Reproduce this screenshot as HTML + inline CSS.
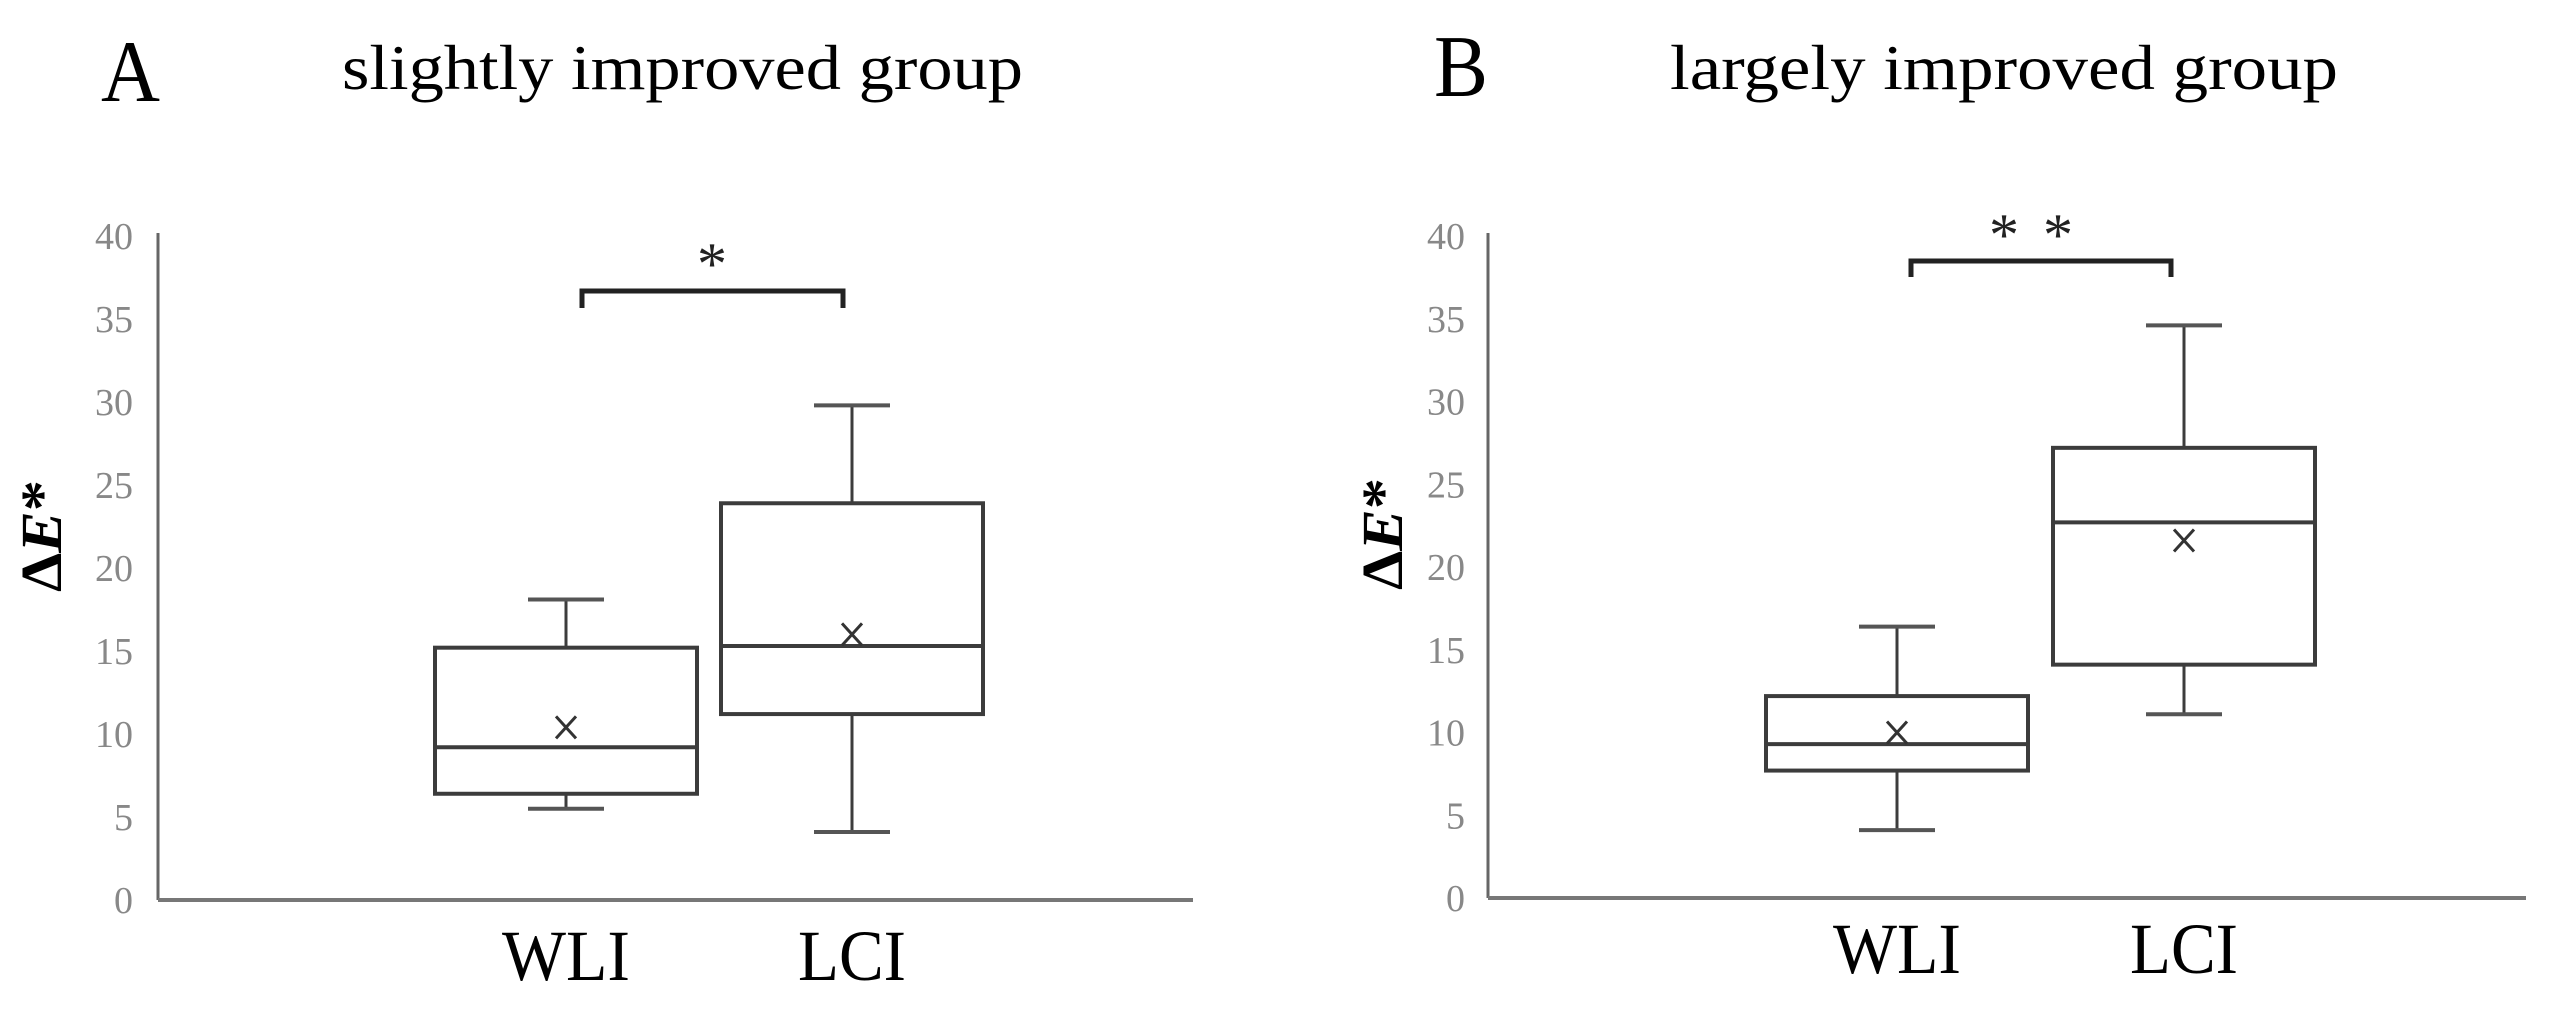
<!DOCTYPE html>
<html><head><meta charset="utf-8"><style>
html,body{margin:0;padding:0;background:#fff;width:2555px;height:1019px;overflow:hidden}
svg text{font-family:"Liberation Serif",serif}
</style></head><body>
<svg id="fig" width="2555" height="1019" viewBox="0 0 2555 1019">
<text x="101" y="101" font-size="88" textLength="59" lengthAdjust="spacingAndGlyphs">A</text>
<text x="342" y="89" font-size="64" textLength="681" lengthAdjust="spacingAndGlyphs">slightly improved group</text>
<text x="1434" y="96" font-size="88" textLength="54" lengthAdjust="spacingAndGlyphs">B</text>
<text x="1670" y="89" font-size="64" textLength="668" lengthAdjust="spacingAndGlyphs">largely improved group</text>
</svg>
<script>
const ticks=[0,5,10,15,20,25,30,35,40];
const groups=["WLI","LCI"];
const aMin=[5.5,4.1], aQ1=[6.4,11.2], aMed=[9.2,15.3], aQ3=[15.2,23.9], aMax=[18.1,29.8], aMean=[10.4,16.0];
const bMin=[4.1,11.1], bQ1=[7.7,14.1], bMed=[9.3,22.7], bQ3=[12.2,27.2], bMax=[16.4,34.6], bMean=[10.0,21.6];
const sigA="*", sigB="* *";
const NS="http://www.w3.org/2000/svg";
const svg=document.getElementById('fig');
function mk(tag,attrs,parent){const e=document.createElementNS(NS,tag);for(const k in attrs)e.setAttribute(k,attrs[k]);(parent||svg).appendChild(e);return e;}
const panels=[
 {id:'a',ax:158,axEnd:1193,y0:900,y40:236,lblR:133,centers:[566,852],halfBox:131,cap:38,mn:aMin,q1:aQ1,md:aMed,q3:aQ3,mx:aMax,mean:aMean,br:[582,843,291,308],sig:sigA,sigX:[712],sigY:262,ytx:42,yty:536,xlY:980},
 {id:'b',ax:1488,axEnd:2526,y0:898,y40:236,lblR:1465,centers:[1897,2184],halfBox:131,cap:38,mn:bMin,q1:bQ1,md:bMed,q3:bQ3,mx:bMax,mean:bMean,br:[1911,2171,261,277],sig:sigB,sigX:[2004,2058],sigY:233,ytx:1383,yty:534,xlY:973}
];
panels.forEach(p=>{
 const y=v=>p.y0-(v/40)*(p.y0-p.y40);
 const g=mk('g',{});
 
 
 const ya=mk('line',{x1:p.ax,y1:p.y40-3,x2:p.ax,y2:p.y0,stroke:'#666','stroke-width':3},g);
 
 
 const xa=mk('line',{x1:p.ax,y1:p.y0,x2:p.axEnd,y2:p.y0,stroke:'#777','stroke-width':4},g);
 
 
 ticks.forEach(t=>{
  const s=String(t);
  const tx=mk('text',{x:p.lblR,y:y(t)+13,'font-size':38,fill:'#888','text-anchor':'end',textLength:s.length*19,lengthAdjust:'spacingAndGlyphs'},g);
  tx.textContent=s;
  
  
 });
 const yt=mk('text',{x:0,y:0,'font-size':58,'font-weight':'bold',transform:`translate(${p.ytx+19},${p.yty}) rotate(-90)`,'text-anchor':'middle',textLength:112,lengthAdjust:'spacingAndGlyphs'},g);
 yt.innerHTML='Δ<tspan font-style="italic">E</tspan>*';
 
 
 groups.forEach((gn,i)=>{
  const c=p.centers[i], st='#3c3c3c';
  const mn=p.mn[i], q1=p.q1[i], md=p.md[i], q3=p.q3[i], mx=p.mx[i], mean=p.mean[i];
  const bx=mk('g',{},g);
  
  
  mk('line',{x1:c,y1:y(q3),x2:c,y2:y(mx),stroke:st,'stroke-width':3},bx);
  mk('line',{x1:c,y1:y(q1),x2:c,y2:y(mn),stroke:st,'stroke-width':3},bx);
  mk('line',{x1:c-p.cap,y1:y(mx),x2:c+p.cap,y2:y(mx),stroke:'#555','stroke-width':4},bx);
  mk('line',{x1:c-p.cap,y1:y(mn),x2:c+p.cap,y2:y(mn),stroke:'#555','stroke-width':4},bx);
  mk('rect',{x:c-p.halfBox,y:y(q3),width:2*p.halfBox,height:y(q1)-y(q3),fill:'none',stroke:st,'stroke-width':4},bx);
  mk('line',{x1:c-p.halfBox,y1:y(md),x2:c+p.halfBox,y2:y(md),stroke:st,'stroke-width':4},bx);
  const my=y(mean);
  mk('path',{d:`M${c-10} ${my-11}L${c+10} ${my+11}M${c+10} ${my-11}L${c-10} ${my+11}`,stroke:'#333','stroke-width':3},bx);
  const xl=mk('text',{x:c,y:p.xlY,'font-size':72,'text-anchor':'middle',textLength:gn==='WLI'?128:108,lengthAdjust:'spacingAndGlyphs'},g);
  xl.textContent=gn;
  
  
 });
 const [bx1,bx2,by,bb]=p.br;
 const br=mk('path',{d:`M${bx1} ${bb}L${bx1} ${by}L${bx2} ${by}L${bx2} ${bb}`,fill:'none',stroke:'#222','stroke-width':5},g);
 
 
 p.sigX.forEach(sx=>{
  const s=mk('text',{x:sx,y:p.sigY+22,'font-size':60,'text-anchor':'middle',fill:'#222','font-family':'"DejaVu Sans",sans-serif'},g);
  s.textContent='*';
  
  
 });
});
</script>
</body></html>
